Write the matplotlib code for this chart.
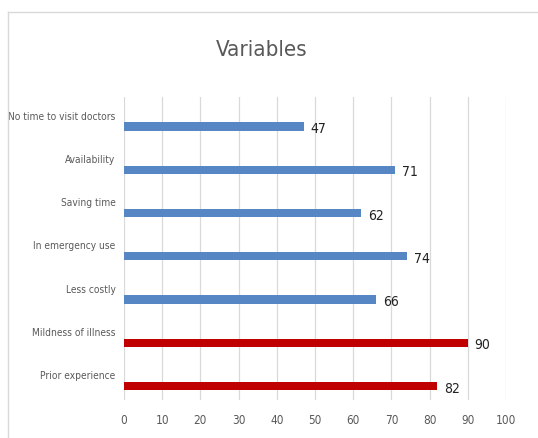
import numpy as np
import matplotlib.pyplot as plt
from matplotlib.lines import Line2D

categories = ['No time to visit doctors', 'Availability', 'Saving time',
              'In emergency use', 'Less costly', 'Mildness of illness',
              'Prior experience']
values = [47, 71, 62, 74, 66, 90, 82]
bar_colors = ['#5686C4'] * 5 + ['#C00000'] * 2
xticks = list(range(0, 101, 10))

plt.rcParams['font.family'] = ['DejaVu Sans']
plt.rcParams['font.stretch'] = 'condensed'

fig = plt.figure(figsize=(5.38, 4.38), dpi=100)
ax = fig.add_axes([124 / 538, 1 - 400 / 438, (506 - 124) / 538, (400 - 97) / 438])

pos = np.arange(len(categories))
ax.barh(pos + 0.18, values, height=0.19, color=bar_colors, zorder=3)
for p, v in zip(pos, values):
    ax.text(v + 1.8, p + 0.24, str(v), va='center', ha='left', fontsize=10, color='#222222')

ax.set_ylim(len(categories) - 0.5, -0.5)
ax.set_yticks(pos - 0.07)
ax.set_yticklabels(categories, fontsize=7.3, color='#595959')
ax.set_xlim(0, 100)
ax.set_xticks(xticks)
ax.set_xticklabels([str(t) for t in xticks], fontsize=8.5, color='#595959')
ax.tick_params(length=0, axis='y', pad=6)
ax.tick_params(length=0, axis='x', pad=10)
ax.grid(axis='x', color='#D9D9D9', linewidth=0.9, zorder=0)
for s in ax.spines.values():
    s.set_visible(False)

fig.text(262 / 538, 1 - 50 / 438, 'Variables', ha='center', va='center', fontsize=16, color='#595959')

# chart border
fig.add_artist(Line2D([8 / 538, 8 / 538], [0, 1 - 12 / 438], transform=fig.transFigure, color='#D9D9D9', lw=1))
fig.add_artist(Line2D([8 / 538, 1], [1 - 12 / 438, 1 - 12 / 438], transform=fig.transFigure, color='#D9D9D9', lw=1))

fig.savefig('out.png', dpi=100)
